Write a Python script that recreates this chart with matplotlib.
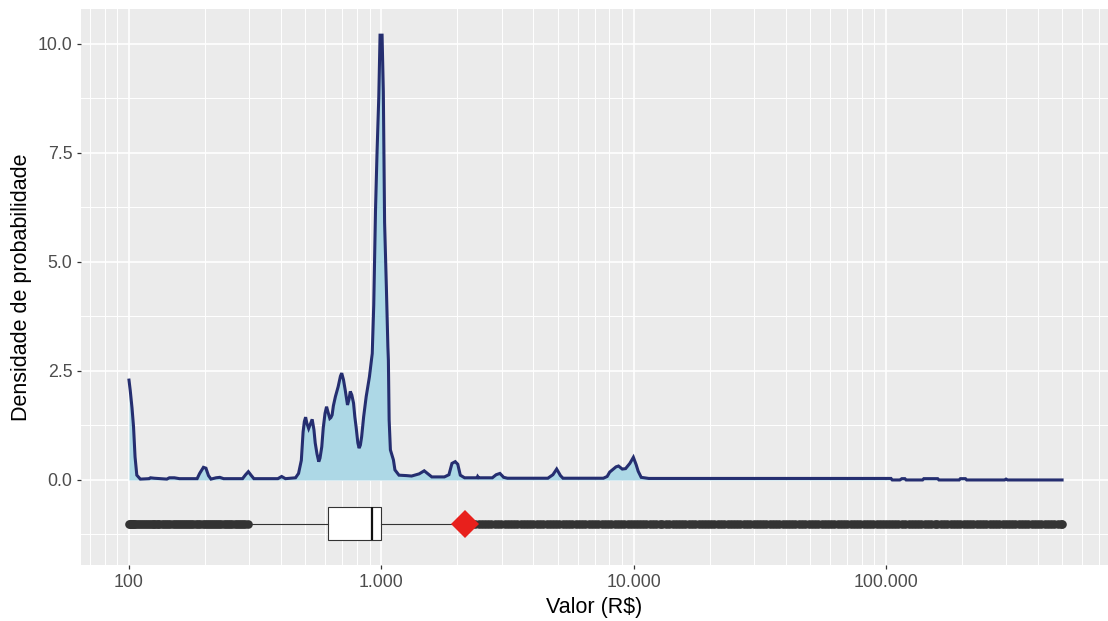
import numpy as np
import matplotlib
matplotlib.use("Agg")
import matplotlib.pyplot as plt
from matplotlib.ticker import FixedLocator, LogLocator, MultipleLocator, NullFormatter

# ---- density estimate of log10(valor) --------------------------------------
log10_valor = [
    2.000, 2.005, 2.012, 2.018, 2.024, 2.031, 2.045, 2.080, 2.085, 2.100,
    2.150, 2.160, 2.180, 2.200, 2.270, 2.280, 2.295, 2.305, 2.315, 2.325,
    2.345, 2.360, 2.375, 2.450, 2.462, 2.473, 2.485, 2.495, 2.590, 2.605,
    2.620, 2.660, 2.672, 2.683, 2.690, 2.695, 2.700, 2.705, 2.712, 2.720,
    2.726, 2.733, 2.738, 2.745, 2.752, 2.757, 2.764, 2.770, 2.777, 2.783,
    2.789, 2.796, 2.800, 2.805, 2.810, 2.818, 2.829, 2.838, 2.843, 2.850,
    2.857, 2.866, 2.872, 2.877, 2.883, 2.890, 2.895, 2.900, 2.907, 2.912,
    2.917, 2.922, 2.930, 2.940, 2.953, 2.960, 2.964, 2.970, 2.977, 2.983,
    2.990, 2.995, 3.003, 3.008, 3.013, 3.020, 3.026, 3.028, 3.031, 3.036,
    3.048, 3.054, 3.070, 3.100, 3.120, 3.150, 3.170, 3.185, 3.200, 3.250,
    3.268, 3.280, 3.293, 3.303, 3.313, 3.330, 3.380, 3.382, 3.386, 3.440,
    3.455, 3.470, 3.485, 3.500, 3.660, 3.680, 3.695, 3.710, 3.720, 3.880,
    3.895, 3.905, 3.930, 3.940, 3.955, 3.968, 3.985, 3.999, 4.010, 4.018,
    4.030, 4.060, 5.020, 5.025, 5.055, 5.063, 5.075, 5.080, 5.145, 5.150,
    5.205, 5.210, 5.290, 5.295, 5.315, 5.320, 5.470, 5.476, 5.482, 5.698,
]
densidade = [
    2.29, 2.05, 1.65, 1.22, 0.53, 0.11, 0.02, 0.03, 0.05, 0.04,
    0.02, 0.05, 0.05, 0.03, 0.03, 0.15, 0.29, 0.27, 0.10, 0.02,
    0.05, 0.06, 0.03, 0.03, 0.12, 0.19, 0.10, 0.03, 0.03, 0.08,
    0.03, 0.05, 0.15, 0.45, 1.10, 1.34, 1.44, 1.30, 1.18, 1.30,
    1.39, 1.15, 0.85, 0.60, 0.42, 0.50, 0.76, 1.20, 1.53, 1.68,
    1.55, 1.41, 1.43, 1.49, 1.70, 1.91, 2.14, 2.38, 2.45, 2.30,
    2.06, 1.72, 1.85, 2.03, 1.95, 1.76, 1.45, 1.22, 0.85, 0.73,
    0.80, 0.99, 1.45, 1.91, 2.37, 2.70, 2.90, 4.01, 6.19, 7.50,
    8.79, 10.20, 10.20, 8.90, 5.90, 4.43, 3.06, 2.75, 1.38, 0.69,
    0.46, 0.23, 0.11, 0.10, 0.09, 0.14, 0.21, 0.14, 0.07, 0.07,
    0.12, 0.38, 0.42, 0.36, 0.11, 0.05, 0.05, 0.08, 0.05, 0.05,
    0.12, 0.15, 0.06, 0.04, 0.04, 0.12, 0.25, 0.10, 0.04, 0.04,
    0.08, 0.18, 0.30, 0.32, 0.25, 0.26, 0.38, 0.52, 0.35, 0.20,
    0.06, 0.035, 0.035, 0.00, 0.00, 0.03, 0.03, 0.00, 0.00, 0.03,
    0.03, 0.00, 0.00, 0.03, 0.03, 0.00, 0.00, 0.02, 0.00, 0.00,
]

# ---- boxplot summary (R$) ---------------------------------------------------
box_q1 = 614
box_mediana = 918
box_q3 = 1000
bigode_inf = 300
bigode_sup = 2000
media = 2150
outliers_inf = [
    100, 101, 102, 103, 104, 105, 106, 108, 110, 112, 114, 116, 118, 120,
    122, 124, 126, 128, 130, 132, 135, 138, 140, 143, 146, 149, 152, 155,
    158, 161, 164, 167, 170, 173, 176, 180, 184, 188, 192, 196, 200, 204,
    208, 212, 216, 220, 224, 228, 232, 237, 242, 247, 252, 257, 262, 267,
    272, 277, 282, 288, 295,
]
outliers_sup = [
    2100, 2160, 2220, 2290, 2360, 2430, 2500, 2580, 2650, 2730, 2810, 2900,
    2990, 3080, 3170, 3260, 3360, 3460, 3570, 3670, 3780, 3900, 4010, 4130,
    4260, 4380, 4520, 4650, 4790, 4940, 5080, 5240, 5390, 5560, 5720, 5890,
    6070, 6250, 6440, 6640, 6830, 7040, 7250, 7470, 7690, 7920, 8160, 8400,
    8650, 8910, 9180, 9460, 9740,
    10000, 10300, 10600, 10900, 11200, 11600, 11900, 12300, 12700, 13000,
    13400, 13800, 14300, 14700, 15100, 15600, 16000, 16500, 17000, 17500,
    18100, 18600, 19200, 19700, 20300, 20900, 21600, 22200, 22900, 23600,
    24300, 25000, 25800, 26500, 27300, 28100, 29000, 29900, 30800, 31700,
    32600, 33600, 34600, 35700, 36700, 37800, 39000, 40100, 41300, 42600,
    43800, 45200, 46500, 47900, 49400, 50800, 52400, 53900, 55600, 57200,
    58900, 60700, 62500, 64400, 66400, 68300, 70400, 72500, 74700, 76900,
    79200, 81600, 84000, 86500, 89100, 91800, 94600, 97400,
    100000, 103000, 106000, 109000, 112000, 116000, 119000, 123000, 127000,
    130000, 134000, 138000, 143000, 147000, 151000, 156000, 160000, 165000,
    170000, 175000, 181000, 186000, 192000, 197000, 203000, 209000, 216000,
    222000, 229000, 236000, 243000, 250000, 258000, 265000, 273000, 281000,
    290000, 299000, 308000, 317000, 326000, 336000, 346000, 357000, 367000,
    378000, 390000, 401000, 413000, 426000, 438000, 452000, 465000, 479000,
    494000, 500000,
]

x_ticks = [100, 1000, 10000, 100000]
x_tick_labels = ["100", "1.000", "10.000", "100.000"]
y_ticks = [0.0, 2.5, 5.0, 7.5, 10.0]
y_tick_labels = ["0.0", "2.5", "5.0", "7.5", "10.0"]

# ---- figure -----------------------------------------------------------------
plt.rcParams["font.family"] = ["Liberation Sans", "DejaVu Sans"]
fig = plt.figure(figsize=(11.08, 6.21), dpi=100)
ax = fig.add_axes([81 / 1108, 1 - 565 / 621, 1 - 81 / 1108, (565 - 9) / 621])
ax.set_facecolor("#EBEBEB")
for s in ax.spines.values():
    s.set_visible(False)

ax.set_xscale("log")
ax.set_xlim(10 ** 1.8098, 10 ** 5.880)
ax.set_ylim(-1.95, 10.80)

valor = 10 ** np.asarray(log10_valor)
ax.fill_between(valor, 0, densidade, color="lightblue", linewidth=0, zorder=2)
ax.plot(valor, densidade, color="#252E70", linewidth=2.2, zorder=3,
        solid_joinstyle="miter")

stats = [dict(med=box_mediana, q1=box_q1, q3=box_q3,
              whislo=bigode_inf, whishi=bigode_sup,
              fliers=np.array(outliers_inf + outliers_sup))]
ax.bxp(stats, positions=[-1], widths=0.75, orientation="horizontal",
       showcaps=False, patch_artist=True, manage_ticks=False,
       boxprops=dict(facecolor="white", edgecolor="#333333", linewidth=0.8),
       whiskerprops=dict(color="#333333", linewidth=0.8),
       medianprops=dict(color="#111111", linewidth=1.6),
       flierprops=dict(marker="o", markersize=6.2, markerfacecolor="#333333",
                       markeredgecolor="#333333", markeredgewidth=0),
       zorder=3)
ax.plot([media], [-1], marker="D", markersize=14, color="#E8201C",
        markeredgewidth=0, zorder=5, linestyle="none")

# ---- axes, ticks, grid --------------------------------------------------------
ax.xaxis.set_major_locator(FixedLocator(x_ticks))
ax.set_xticklabels(x_tick_labels)
ax.xaxis.set_minor_locator(LogLocator(base=10, subs=np.arange(2, 10)))
ax.xaxis.set_minor_formatter(NullFormatter())
ax.yaxis.set_major_locator(FixedLocator(y_ticks))
ax.set_yticklabels(y_tick_labels)
ax.yaxis.set_minor_locator(MultipleLocator(1.25))

ax.grid(which="major", color="white", linewidth=1.2, zorder=0)
ax.grid(which="minor", color="white", linewidth=0.7, zorder=0)
ax.set_axisbelow(True)
ax.tick_params(which="major", length=3.2, width=0.9, color="#333333",
               labelcolor="#4D4D4D", labelsize=12.8, pad=3)
ax.tick_params(which="minor", length=0)

ax.set_xlabel("Valor (R$)", fontsize=15.5, color="black")
ax.set_ylabel("Densidade de probabilidade", fontsize=15.5, color="black")
ax.xaxis.set_label_coords(0.5, -0.058)
ax.yaxis.set_label_coords(-0.0477, 0.5)

fig.savefig("out.png", dpi=100)
